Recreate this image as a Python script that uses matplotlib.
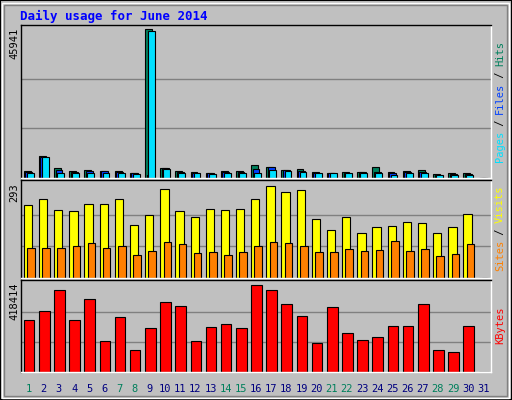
import matplotlib
matplotlib.use("Agg")
import matplotlib.pyplot as plt
from matplotlib.patches import Rectangle
import numpy as np

days = list(range(1, 32))
weekend = [1, 7, 8, 14, 15, 21, 22, 28, 29]
hits = [2100, 6900, 3100, 2100, 2500, 2300, 2100, 1700, 45941, 3100, 2100, 1900, 1500, 2100, 2100,
        4000, 3300, 2500, 2700, 1900, 1500, 1900, 1900, 3300, 1900, 2100, 2500, 1100, 1500, 1500, 0]
files = [1900, 6600, 2400, 1800, 2300, 2100, 1900, 1500, 1000, 3000, 1900, 1700, 1400, 1900, 1900,
         2700, 3300, 2400, 2200, 1700, 1400, 1700, 1800, 1900, 1700, 1800, 1900, 1000, 1300, 1300, 0]
pages = [1700, 6500, 1700, 1600, 1700, 1600, 1600, 1300, 45500, 2800, 1600, 1400, 1300, 1700, 1600,
         1700, 2500, 2200, 1800, 1600, 1400, 1600, 1600, 1600, 1000, 1600, 1600, 1000, 900, 900, 0]
visits = [224, 244, 209, 206, 227, 227, 244, 163, 193, 273, 206, 187, 212, 209, 212, 244, 282, 264,
          270, 183, 148, 187, 138, 157, 160, 172, 169, 138, 157, 196, 0]
sites = [92, 92, 92, 98, 108, 92, 98, 71, 83, 111, 105, 77, 80, 71, 80, 98, 111, 108, 98, 80, 80,
         90, 83, 87, 114, 83, 90, 68, 74, 105, 0]
kbytes = [242000, 285000, 385000, 242000, 342000, 147000, 257000, 105000, 204000, 328000, 309000,
          147000, 209000, 223000, 204000, 409000, 385000, 319000, 261000, 138000, 304000, 185000,
          152000, 166000, 214000, 214000, 319000, 105000, 95000, 214000, 0]
max_hits, max_visits, max_kb = 45941, 293, 418414

W, H = 512, 400
fig = plt.figure(figsize=(W/100, H/100), dpi=100)
fig.patch.set_facecolor("#C0C0C0")
# bevel border
fig.add_artist(Rectangle((0, 0), 1, 1, transform=fig.transFigure, fill=False, ec="black", lw=1.5))
fig.add_artist(Rectangle((2/W, 2/H), 1-5/W, 1-5/H, transform=fig.transFigure, fill=False, ec="white", lw=1))
fig.add_artist(Rectangle((4/W, 4/H), 1-9/W, 1-9/H, transform=fig.transFigure, fill=False, ec="#808080", lw=1))

mono = "DejaVu Sans Mono"
fig.text(20/W, 1-16/H, "Daily usage for June 2014", color="#0000FF", fontsize=9, fontweight="bold",
         family=mono, va="center")

L, R = 21/W, 491/W
def mkax(ytop, ybot):
    ax = fig.add_axes([L, 1-ybot/H, R-L, (ybot-ytop)/H])
    ax.set_facecolor("#C0C0C0")
    ax.set_xlim(0.5, 31.5)
    ax.set_xticks([]); ax.set_yticks([])
    for s in ax.spines.values():
        s.set_color("black"); s.set_linewidth(1)
    ax.spines["right"].set_color("white"); ax.spines["bottom"].set_color("white")
    return ax

x = np.array(days, dtype=float)
# top
ax1 = mkax(25, 178)
ax1.set_ylim(0, max_hits*1.03)
for g in (1/3, 2/3):
    ax1.axhline(max_hits*g, color="#808080", lw=1, zorder=0)
ax1.bar(x-0.32, hits, width=0.45, align="edge", color="#00805C", ec="black", lw=0.8)
ax1.bar(x-0.22, files, width=0.45, align="edge", color="#0040FF", ec="black", lw=0.8)
ax1.bar(x-0.12, pages, width=0.45, align="edge", color="#00E0FF", ec="black", lw=0.8)
fig.text(14/W, 1-28/H, "45941", rotation=90, fontsize=7.5, family=mono, va="top", ha="center")

ax2 = mkax(180, 278)
ax2.set_ylim(0, max_visits*1.03)
for g in (1/3, 2/3):
    ax2.axhline(max_visits*g, color="#808080", lw=1, zorder=0)
ax2.bar(x-0.32, visits, width=0.55, align="edge", color="#FFFF00", ec="black", lw=0.8)
ax2.bar(x-0.1, sites, width=0.5, align="edge", color="#FF8000", ec="black", lw=0.8)
fig.text(14/W, 1-183/H, "293", rotation=90, fontsize=7.5, family=mono, va="top", ha="center")

ax3 = mkax(280, 372)
ax3.set_ylim(0, max_kb*1.03)
for g in (1/3, 2/3):
    ax3.axhline(max_kb*g, color="#808080", lw=1, zorder=0)
ax3.bar(x-0.32, kbytes, width=0.7, align="edge", color="#FF0000", ec="black", lw=0.8)
fig.text(14/W, 1-283/H, "418414", rotation=90, fontsize=7.5, family=mono, va="top", ha="center")

for d in days:
    xf = L + (d-0.5)/31*(R-L)
    fig.text(xf, 1-389/H, str(d), fontsize=7.5, family=mono, ha="center", va="center",
             color="#00805C" if d in weekend else "#000080")

def side(ytop, ybot, parts):
    # parts drawn bottom-to-top
    n = sum(len(p) for p, c in parts)
    yc = (ytop+ybot)/2
    h = n*6.0
    y = yc + h/2
    for p, c in parts:
        fig.text(500/W, 1-y/H, p, rotation=90, fontsize=7.5, family=mono, color=c,
                 ha="center", va="bottom")
        y -= len(p)*6.0

side(25, 178, [("Pages", "#00E0FF"), (" / ", "#000000"), ("Files", "#0040FF"), (" / ", "#000000"), ("Hits", "#00805C")])
side(180, 278, [("Sites", "#FF8000"), (" / ", "#000000"), ("Visits", "#FFFF00")])
side(280, 372, [("KBytes", "#FF0000")])

fig.savefig("out.png", dpi=100, facecolor=fig.get_facecolor())
